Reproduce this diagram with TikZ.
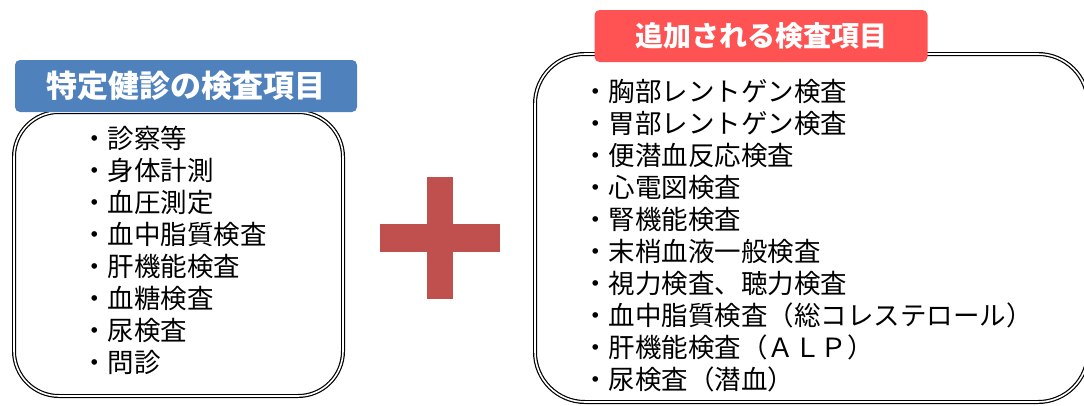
\documentclass[tikz,border=0pt]{standalone}
\usepackage{fontspec}
\setmainfont{Noto Sans CJK JP}
\usepackage{tikz}

\definecolor{kenblue}{HTML}{4F81BD}
\definecolor{addred}{HTML}{FF5252}
\definecolor{plusred}{HTML}{C0504D}

\tikzset{
	listbox/.style={draw=black,double,double distance=1.6pt,line width=1.2pt},
	titlebox/.style={rounded corners=5pt,text=white,inner sep=0pt,font=\bfseries},
	item/.style={anchor=west,inner sep=0pt,font=\fontsize{26.5}{30}\selectfont}
}

\begin{document}
\begin{tikzpicture}[x=1pt,y=-1pt]
	\useasboundingbox (0,0) rectangle (1084,405);
	
	% left box
	\draw[listbox,rounded corners=45pt] (14,112) rectangle (343,396);
	\node[titlebox,fill=kenblue,minimum width=342pt,minimum height=52pt,font=\bfseries\fontsize{31}{34}\selectfont] (ltitle) at (186,86) {特定健診の検査項目};
	\foreach \t [count=\i] in {診察等,身体計測,血圧測定,血中脂質検査,肝機能検査,血糖検査,尿検査,問診}
		\node[item] (l\i) at (81,106+32*\i) {・\t};
	
	% plus
	\fill[plusred] (380,224) rectangle (500,252);
	\fill[plusred] (427,177) rectangle (453,299);
	
	% right box
	\draw[listbox,rounded corners=50pt] (535,54) rectangle (1088,402);
	\node[titlebox,fill=addred,minimum width=333pt,minimum height=52pt,font=\bfseries\fontsize{28}{32}\selectfont] (rtitle) at (761,36) {追加される検査項目};
	\foreach \t [count=\i] in {胸部レントゲン検査,胃部レントゲン検査,便潜血反応検査,心電図検査,腎機能検査,末梢血液一般検査,視力検査、聴力検査,血中脂質検査（総コレステロール）,肝機能検査（ＡＬＰ）,尿検査（潜血）}
		\node[item] (r\i) at (582,60+31.9*\i) {・\t};
	
\end{tikzpicture}
\end{document}
